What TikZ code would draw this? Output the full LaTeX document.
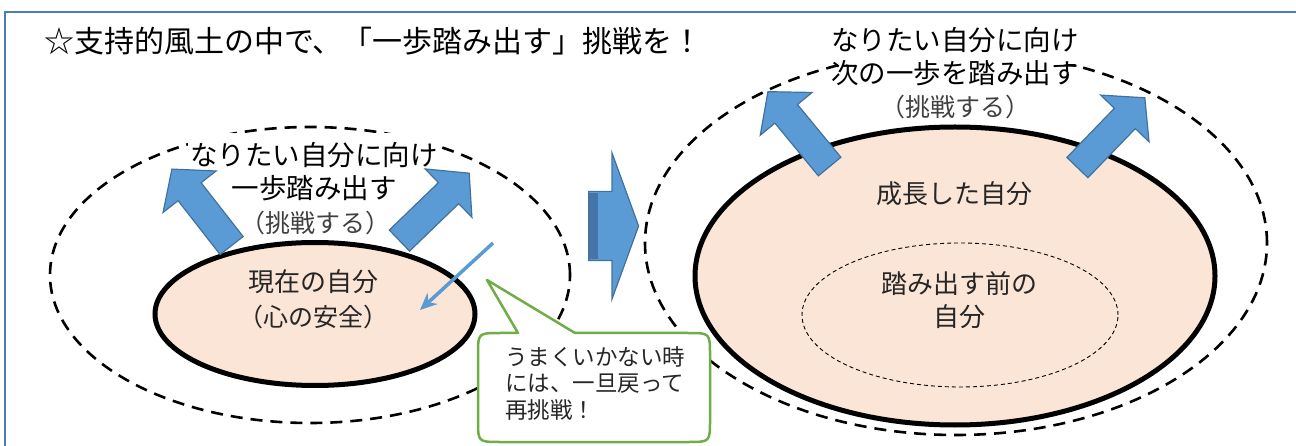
\documentclass[tikz,border=0pt]{standalone}
\usepackage{fontspec}
\setmainfont{Noto Sans CJK JP}
\usetikzlibrary{shapes.geometric,shapes.arrows,arrows.meta}

\definecolor{framecol}{HTML}{4A7EBB}
\definecolor{arrowfill}{HTML}{5B9BD5}
\definecolor{arrowline}{HTML}{41719C}
\definecolor{arrowshade}{HTML}{4474A8}
\definecolor{selffill}{HTML}{FBE5D6}
\definecolor{bubbleline}{HTML}{70AD47}
\definecolor{softtext}{HTML}{404040}
\definecolor{bodytext}{HTML}{262626}

\tikzset{
  jtext/.style={inner sep=2pt, text height=0.88em, text depth=0.12em},
  headtext/.style={jtext, font=\fontsize{27.5}{32}\selectfont},
  softhead/.style={jtext, text=softtext, font=\fontsize{25}{30}\selectfont},
  selftext/.style={jtext, text=bodytext, font=\fontsize{26}{31}\selectfont},
  softself/.style={jtext, text=bodytext, font=\fontsize{25}{30}\selectfont},
  retrytext/.style={jtext, inner sep=0pt, anchor=west, text=bodytext, font=\fontsize{22.5}{27}\selectfont},
  wantoval/.style={ellipse, draw, line width=2.6pt, dash pattern=on 12pt off 8pt, inner sep=0pt},
  selfoval/.style={ellipse, draw, fill=selffill, line width=5pt, inner sep=0pt},
  pastoval/.style={ellipse, draw, line width=0.9pt, dash pattern=on 4pt off 3pt, inner sep=0pt},
  blockarrow/.style={single arrow, draw=arrowline, fill=arrowfill, line width=1.2pt,
    inner xsep=0pt, inner ysep=14pt, text height=0pt, text depth=0pt, text width=0pt,
    single arrow head extend=19pt, single arrow tip angle=99, minimum height=97pt, anchor=tail},
  backarrow/.style={draw=arrowfill, line width=3.5pt, -{Stealth[length=17pt,width=15pt]}},
  bubble/.style={draw=bubbleline, fill=white, line width=2.5pt, line join=round}
}

\begin{document}
\begin{tikzpicture}[x=1pt,y=-1pt]

\useasboundingbox (0,0) rectangle (1296,446);

\draw[framecol, line width=2.6pt] (5,446) -- (5,12) -- (1296,12);

\node[jtext, anchor=west, inner sep=0pt, font=\fontsize{30}{35}\selectfont] (motto) at (44,49) {☆支持的風土の中で、「一歩踏み出す」挑戦を！};

% now
\node[wantoval, minimum width=520pt, minimum height=296pt] (wantL) at (310,275) {};
\node[selfoval, minimum width=320pt, minimum height=143pt] (nowself) at (315,314) {};

% after
\node[wantoval, minimum width=622pt, minimum height=384pt] (wantR) at (956,243) {};
\node[selfoval, minimum width=520pt, minimum height=298pt] (grownself) at (955,276) {};
\node[pastoval, minimum width=316pt, minimum height=144pt] (pastself) at (960,315) {};

\node[headtext, fill=white, inner ysep=24pt] (wishL) at (314,162) {なりたい自分に向け};
\node[headtext] (stepL) at (314,195) {一歩踏み出す};

\node[headtext, fill=white, inner ysep=12pt] (wishR) at (955,47) {なりたい自分に向け};
\node[headtext, fill=white] (stepR) at (955,80) {次の一歩を踏み出す};

\node[blockarrow, rotate=128] (upL1) at (232,246) {};
\node[blockarrow, rotate=44] (upL2) at (399,241) {};
\node[blockarrow, rotate=129.5] (upR1) at (830,167) {};
\node[blockarrow, rotate=46] (upR2) at (1077,168) {};

\node[softhead] (tryL) at (315,229) {（挑戦する）};
\node[softhead] (tryR) at (955,113) {（挑戦する）};

\node[selftext] (nowname) at (313,288) {現在の自分};
\node[softself] (nowsafe) at (313,323) {（心の安全）};

\node[selftext] (grownname) at (954,200) {成長した自分};
\node[selftext] (pastname1) at (959,290) {踏み出す前の};
\node[selftext] (pastname2) at (959,323) {自分};

\coordinate (backA) at (493,243);
\coordinate (backB) at (420,310);
\draw[backarrow] (backA) -- (backB);

\node[single arrow, draw=arrowline, fill=arrowfill, line width=1.2pt, anchor=tail,
  inner xsep=0pt, inner ysep=34pt, text height=0pt, text depth=0pt, text width=0pt,
  single arrow head extend=38.5pt, single arrow tip angle=140, minimum height=50pt] (growstep) at (588,226) {};
\fill[arrowshade] (588.6,192.6) rectangle (598,259.4);

% retry bubble
\draw[bubble] (518,333) -- (487,280) -- (575,333) -- (688,333)
  .. controls (710,333) .. (710,355) -- (710,420)
  .. controls (710,442) .. (688,442) -- (500,442)
  .. controls (478,442) .. (478,420) -- (478,355)
  .. controls (478,333) .. (500,333) -- cycle;
\node[retrytext] (retry1) at (505,362) {うまくいかない時};
\node[retrytext] (retry2) at (505,388) {には、一旦戻って};
\node[retrytext] (retry3) at (505,415) {再挑戦！};

\end{tikzpicture}
\end{document}
